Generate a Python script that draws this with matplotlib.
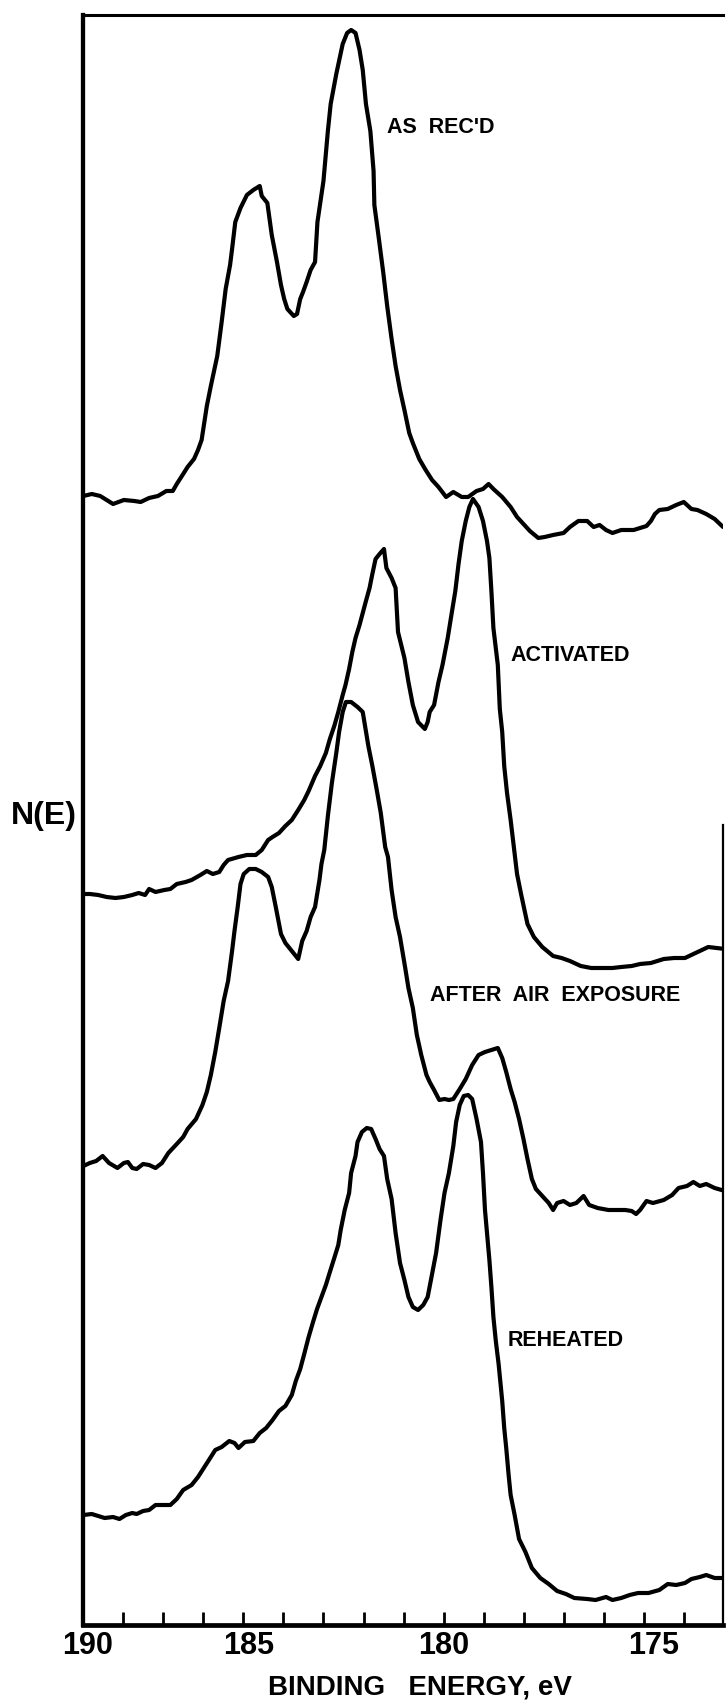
import matplotlib
matplotlib.use("Agg")
import matplotlib.pyplot as plt
import matplotlib.transforms as mtransforms
import numpy as np

# B 1s region, four spectra stacked on one N(E) axis (counts in arbitrary units)
as_recd_ev = [189.99, 189.78, 189.57, 189.41, 189.25, 188.98, 188.72, 188.56, 188.35, 188.13,
              187.92, 187.76, 187.66, 187.50, 187.39, 187.23, 187.13, 187.04, 186.91, 186.81,
              186.65, 186.54, 186.44, 186.33, 186.28, 186.20, 186.07, 185.91, 185.75, 185.59,
              185.54, 185.40, 185.29, 185.16, 185.06, 184.98, 184.90, 184.74, 184.66, 184.58,
              184.51, 184.42, 184.32, 184.21, 184.15, 184.00, 183.89, 183.82, 183.68, 183.52,
              183.41, 183.31, 183.20, 183.10, 183.02, 182.94, 182.83, 182.75, 182.73, 182.62,
              182.51, 182.41, 182.30, 182.20, 182.09, 181.98, 181.86, 181.77, 181.61, 181.45,
              181.29, 181.13, 180.94, 180.76, 180.55, 180.39, 180.18, 180.02, 179.88, 179.76,
              179.54, 179.33, 179.17, 179.01, 178.85, 178.64, 178.48, 178.27, 178.01, 177.85,
              177.64, 177.42, 177.26, 177.11, 176.95, 176.79, 176.57, 176.26, 175.94, 175.83,
              175.73, 175.62, 175.41, 175.20, 175.01, 174.82, 174.67, 174.45, 174.24, 174.03]
as_recd_counts = [1129, 1131, 1129, 1125, 1121, 1125, 1124, 1123, 1127, 1129,
                  1134, 1134, 1141, 1151, 1158, 1166, 1175, 1185, 1219, 1239,
                  1269, 1303, 1336, 1360, 1376, 1403, 1417, 1430, 1435, 1439,
                  1429, 1422, 1390, 1363, 1340, 1326, 1316, 1309, 1311, 1326,
                  1333, 1343, 1355, 1363, 1403, 1444, 1494, 1521, 1551, 1581,
                  1592, 1595, 1592, 1575, 1555, 1521, 1494, 1454, 1420, 1387,
                  1353, 1319, 1286, 1259, 1235, 1215, 1192, 1182, 1166, 1155,
                  1145, 1138, 1128, 1133, 1128, 1128, 1134, 1136, 1141, 1136,
                  1128, 1118, 1108, 1101, 1094, 1087, 1088, 1090, 1092, 1098,
                  1104, 1104, 1098, 1100, 1095, 1092, 1095, 1095, 1099, 1104,
                  1111, 1115, 1116, 1120, 1123, 1116, 1115, 1111, 1106, 1098]

activated_ev = [189.99, 189.83, 189.62, 189.41, 189.19, 188.98, 188.77, 188.61, 188.45, 188.35,
                188.19, 187.97, 187.82, 187.66, 187.44, 187.29, 187.07, 186.91, 186.76, 186.60,
                186.49, 186.38, 186.12, 185.91, 185.69, 185.54, 185.38, 185.27, 185.11, 184.95,
                184.79, 184.63, 184.48, 184.37, 184.21, 184.08, 183.94, 183.84, 183.73, 183.63,
                183.52, 183.45, 183.36, 183.28, 183.20, 183.10, 183.02, 182.94, 182.85, 182.78,
                182.70, 182.60, 182.49, 182.43, 182.30, 182.20, 182.14, 181.98, 181.88, 181.77,
                181.64, 181.47, 181.40, 181.35, 181.24, 181.13, 181.03, 180.90, 180.82, 180.71,
                180.63, 180.55, 180.45, 180.36, 180.27, 180.13, 180.02, 179.92, 179.86, 179.81,
                179.76, 179.65, 179.60, 179.54, 179.49, 179.42, 179.33, 179.17, 179.07, 178.91,
                178.75, 178.54, 178.27, 178.06, 177.85, 177.58, 177.32, 177.05, 176.79, 176.57,
                176.31, 176.10, 175.83, 175.51, 175.25, 174.98, 174.77, 174.61, 174.40, 174.19,
                173.98]
activated_counts = [731, 731, 730, 728, 727, 728, 730, 732, 730, 736,
                    733, 735, 736, 741, 743, 745, 750, 754, 751, 753,
                    760, 765, 768, 770, 770, 775, 785, 788, 792, 799,
                    805, 815, 825, 834, 849, 859, 872, 886, 899, 913,
                    930, 940, 956, 973, 987, 1000, 1012, 1024, 1037, 1051,
                    1066, 1071, 1076, 1057, 1047, 1037, 993, 967, 943, 920,
                    903, 896, 903, 913, 920, 943, 960, 987, 1007, 1034,
                    1061, 1084, 1104, 1118, 1126, 1118, 1104, 1084, 1067, 1034,
                    997, 960, 916, 893, 859, 832, 805, 751, 731, 701,
                    688, 678, 669, 667, 664, 659, 657, 657, 657, 658,
                    659, 661, 662, 666, 667, 667, 671, 674, 678, 677,
                    676]

air_exposed_ev = [189.99, 189.83, 189.67, 189.51, 189.35, 189.14, 188.98, 188.88, 188.77, 188.66,
                  188.50, 188.35, 188.19, 188.03, 187.87, 187.66, 187.50, 187.39, 187.18, 187.02,
                  186.91, 186.81, 186.70, 186.60, 186.49, 186.38, 186.28, 186.22, 186.14, 186.07,
                  185.99, 185.85, 185.69, 185.54, 185.38, 185.29, 185.19, 185.06, 184.95, 184.79,
                  184.63, 184.53, 184.42, 184.32, 184.21, 184.10, 184.05, 183.98, 183.89, 183.79,
                  183.68, 183.61, 183.52, 183.44, 183.31, 183.15, 183.02, 182.88, 182.78, 182.67,
                  182.57, 182.46, 182.39, 182.30, 182.20, 182.09, 181.96, 181.88, 181.77, 181.67,
                  181.56, 181.43, 181.35, 181.24, 181.11, 180.98, 180.87, 180.76, 180.60, 180.45,
                  180.29, 180.13, 179.97, 179.81, 179.65, 179.54, 179.44, 179.33, 179.23, 179.12,
                  179.01, 178.91, 178.80, 178.70, 178.54, 178.38, 178.27, 178.17, 178.01, 177.85,
                  177.69, 177.51, 177.37, 177.16, 176.89, 176.68, 176.47, 176.31, 176.20, 176.10,
                  175.94, 175.78, 175.51, 175.30, 175.14, 174.93, 174.77, 174.61, 174.45, 174.24,
                  173.98]
air_exposed_counts = [459, 462, 464, 469, 462, 457, 462, 463, 457, 456,
                      461, 460, 457, 462, 472, 481, 488, 496, 506, 520,
                      533, 550, 573, 597, 624, 644, 674, 694, 718, 741,
                      751, 756, 756, 753, 748, 738, 718, 691, 682, 674,
                      666, 684, 694, 708, 718, 745, 761, 775, 809, 842,
                      872, 893, 913, 923, 923, 918, 913, 879, 859, 835,
                      812, 778, 768, 735, 708, 688, 657, 637, 617, 590,
                      570, 550, 543, 535, 525, 526, 525, 526, 536, 546,
                      560, 570, 573, 575, 577, 567, 553, 536, 523, 506,
                      486, 466, 446, 436, 429, 422, 415, 422, 424, 420,
                      422, 429, 420, 417, 415, 415, 415, 414, 411, 415,
                      424, 422, 425, 430, 437, 439, 443, 439, 441, 437,
                      434]

reheated_ev = [189.99, 189.78, 189.62, 189.46, 189.25, 189.09, 188.93, 188.77, 188.66, 188.50,
               188.35, 188.19, 187.97, 187.82, 187.66, 187.50, 187.29, 187.13, 186.97, 186.81,
               186.70, 186.54, 186.35, 186.22, 186.12, 185.96, 185.75, 185.59, 185.43, 185.27,
               185.11, 184.95, 184.79, 184.69, 184.58, 184.48, 184.37, 184.26, 184.16, 184.05,
               183.94, 183.84, 183.73, 183.63, 183.57, 183.47, 183.36, 183.31, 183.20, 183.15,
               183.04, 182.92, 182.81, 182.70, 182.60, 182.49, 182.41, 182.30, 182.20, 182.09,
               181.98, 181.88, 181.77, 181.64, 181.51, 181.40, 181.29, 181.19, 181.08, 180.98,
               180.87, 180.76, 180.69, 180.60, 180.50, 180.39, 180.29, 180.18, 180.07, 180.02,
               179.97, 179.86, 179.81, 179.76, 179.70, 179.63, 179.54, 179.49, 179.44, 179.38,
               179.33, 179.23, 179.12, 178.96, 178.80, 178.59, 178.38, 178.17, 177.95, 177.74,
               177.42, 177.21, 176.95, 176.79, 176.57, 176.36, 176.15, 175.89, 175.62, 175.41,
               175.20, 174.98, 174.82, 174.61, 174.45, 174.24, 173.98]
reheated_counts = [110, 111, 109, 107, 108, 106, 110, 112, 111, 114,
                   115, 120, 120, 120, 126, 135, 140, 148, 158, 168,
                   175, 178, 184, 182, 177, 183, 184, 192, 197, 205,
                   214, 219, 230, 244, 256, 271, 288, 303, 316, 328,
                   340, 353, 367, 380, 395, 415, 432, 452, 469, 483,
                   493, 497, 496, 486, 476, 469, 446, 426, 392, 362,
                   345, 328, 318, 315, 320, 328, 351, 372, 405, 432,
                   452, 479, 503, 520, 529, 530, 526, 506, 483, 452,
                   415, 365, 338, 308, 284, 261, 224, 197, 177, 150,
                   130, 110, 86, 73, 57, 47, 41, 34, 31, 27,
                   26, 25, 28, 25, 27, 30, 32, 32, 35, 41,
                   40, 42, 46, 48, 50, 47, 47]

spectra = [(as_recd_ev, as_recd_counts), (activated_ev, activated_counts),
           (air_exposed_ev, air_exposed_counts), (reheated_ev, reheated_counts)]

curve_labels = ["AS  REC'D", "ACTIVATED", "AFTER  AIR  EXPOSURE", "REHEATED"]
label_ev = [181.07, 177.85, 178.22, 177.95]
label_counts = [1497, 969, 629, 284]

tick_values = list(range(175, 191))
labelled_ticks = [190, 185, 180, 175]
# the lettering under the axis was placed by hand, slightly off the tick marks
label_shift_px = {190: 5, 185: -35, 180: -40, 175: -31}

font = "Liberation Sans"

fig = plt.figure(figsize=(7.26, 17.03), dpi=100)
ax = fig.add_axes([0.1143, 0.0458, 0.8822, 0.9454])

for ev, counts in spectra:
    ax.plot(ev, counts, color="black", lw=3.0,
            solid_joinstyle="round", solid_capstyle="round")

for text, x, y in zip(curve_labels, label_ev, label_counts):
    ax.text(x, y, text, ha="center", va="center", fontsize=15.5,
            fontweight="bold", family=font)

ax.set_xlim(190, 174.02)
ax.set_ylim(0, 1610)

ax.set_xticks(tick_values)
ax.set_xticklabels([str(v) if v in labelled_ticks else "" for v in tick_values],
                   fontsize=22, family=font, fontweight="bold")
ax.tick_params(axis="x", direction="in", length=9.5, width=2, pad=4)
ax.set_yticks([])

for v, lab in zip(tick_values, ax.get_xticklabels()):
    if v in label_shift_px:
        shift = mtransforms.ScaledTranslation(label_shift_px[v] / 100, 0, fig.dpi_scale_trans)
        lab.set_transform(lab.get_transform() + shift)

ax.set_xlabel("BINDING   ENERGY, eV", fontsize=20, family=font, fontweight="bold")
ax.xaxis.set_label_coords(0.526, -0.039)
ax.xaxis.label.set_verticalalignment("center")

ax.set_ylabel("N(E)", fontsize=23, family=font, fontweight="bold", rotation=0,
              ha="center", va="center")
ax.yaxis.set_label_coords(-0.061, 0.5025)

ax.spines["left"].set_linewidth(3.1)
ax.spines["bottom"].set_linewidth(3.4)
ax.spines["top"].set_linewidth(2.2)
ax.spines["right"].set_linewidth(1.6)
ax.spines["right"].set_bounds(0, 800)

fig.savefig("out.png", dpi=100)
